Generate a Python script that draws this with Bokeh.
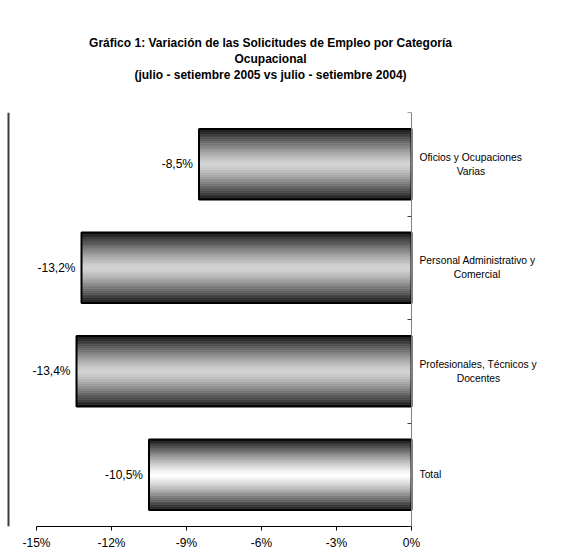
from bokeh.plotting import figure
from bokeh.models import (Range1d, LinearAxis, FixedTicker, ColumnDataSource,
                          LabelSet, Title)
from bokeh.core.properties import value
from bokeh.embed import file_html
from bokeh.resources import INLINE

# ---------------- data ----------------
categories = [
    "Oficios y Ocupaciones Varias",
    "Personal Administrativo y Comercial",
    "Profesionales, Técnicos y Docentes",
    "Total",
]
category_lines = [
    ("Oficios y Ocupaciones", "Varias"),
    ("Personal Administrativo y", "Comercial"),
    ("Profesionales, Técnicos y", "Docentes"),
    ("Total", ""),
]
values = [-8.5, -13.2, -13.4, -10.5]
x_ticks = [-15, -12, -9, -6, -3, 0]
x_tick_labels = ["-15%", "-12%", "-9%", "-6%", "-3%", "0%"]
title_lines = [
    "Gráfico 1: Variación de las Solicitudes de Empleo por Categoría",
    "Ocupacional",
    "(julio - setiembre 2005 vs julio - setiembre 2004)",
]

# ---------------- style ----------------
FONT = "Liberation Sans"
BAR_H = 0.68
N_STRIPES = 40
peak_gray = [212, 212, 212, 255]
edge_gray = 18
second_line_pad = [13, 12, 13, 0]      # centres the 2nd line under the 1st
X_PAD_LEFT, X_PAD_RIGHT = 1.4, 5.12    # extra plot room for labels / title
TITLE_GAP = 15
BORDER_COLOR = "#3c3c3c"

W, H = 574, 552
FRAME_L, FRAME_R, FRAME_T, FRAME_B = 1, 539, 112, 529
PX_PER_X = 25.0                           # pixels per 1 %
PX_PER_Y = (FRAME_B - FRAME_T) / 4.0      # pixels per category slot

n = len(categories)
ypos = [n - i - 0.5 for i in range(n)]   # first category on top

p = figure(
    width=W, height=H,
    x_range=Range1d(x_ticks[0] - X_PAD_LEFT, x_ticks[-1] + X_PAD_RIGHT),
    y_range=Range1d(0, n),
    output_backend="svg", toolbar_location=None,
    y_axis_location=None,
    min_border_left=FRAME_L, min_border_right=W - FRAME_R,
    min_border_top=FRAME_T, min_border_bottom=H - FRAME_B,
)
p.outline_line_color = None
p.background_fill_color = "white"
p.border_fill_color = "white"
p.xgrid.visible = False
p.ygrid.visible = False

# gradient stripes
ys, lefts, heights, colors = [], [], [], []
for yc, v, pk in zip(ypos, values, peak_gray):
    for i in range(N_STRIPES):
        t = -1 + (2 * i + 1) / N_STRIPES
        g = int(round(edge_gray + (pk - edge_gray) * (1 - abs(t) ** 1.3)))
        ys.append(yc + t * BAR_H / 2)
        lefts.append(v)
        heights.append(BAR_H / N_STRIPES)
        colors.append("#%02x%02x%02x" % (g, g, g))
stripes = ColumnDataSource(dict(y=ys, left=lefts, height=heights, color=colors))
p.hbar(y="y", left="left", right=0, height="height", source=stripes,
       fill_color="color", line_color="color", line_width=0.6)

bars = ColumnDataSource(dict(
    y=ypos, val=values,
    vlabel=[("%.1f" % v).replace(".", ",") + "%" for v in values],
))
p.hbar(y="y", left="val", right=0, height=BAR_H, source=bars,
       fill_color=None, line_color="black", line_width=2)

# value labels
p.add_layout(LabelSet(x="val", y="y", text="vlabel", source=bars,
                      x_offset=-6, text_align="right", text_baseline="middle",
                      text_font=value(FONT), text_font_size="12px",
                      text_color="black"))

# x axis (line only from -15% to 0%)
xa = p.xaxis[0]
xa.ticker = FixedTicker(ticks=x_ticks)
xa.bounds = (x_ticks[0], x_ticks[-1])
xa.major_label_overrides = {t: l for t, l in zip(x_ticks, x_tick_labels)}
xa.major_label_text_font = FONT
xa.major_label_text_font_size = "12px"
xa.major_label_text_color = "black"
xa.major_label_standoff = 5
xa.major_tick_in = 0
xa.major_tick_out = 4
xa.minor_tick_line_color = None
xa.axis_line_color = "black"
xa.major_tick_line_color = "black"

# category axis at 0%: labels at category centres, ticks at boundaries
labels = []
for first, second, pad in zip(*zip(*category_lines), second_line_pad):
    labels.append(first + ("\n" + "\u00a0" * pad + second if second else ""))
ya = LinearAxis(ticker=FixedTicker(ticks=ypos, minor_ticks=list(range(n + 1))),
                fixed_location=x_ticks[-1])
ya.major_label_overrides = {y: l for y, l in zip(ypos, labels)}
ya.major_label_text_font = FONT
ya.major_label_text_font_size = "10.3px"
ya.major_label_text_color = "black"
ya.major_label_text_line_height = 1.3
ya.major_label_standoff = 8
ya.major_tick_in = 0
ya.major_tick_out = 0
ya.major_tick_line_color = None
ya.minor_tick_in = 4
ya.minor_tick_out = 0
ya.minor_tick_line_color = "#404040"
ya.axis_line_color = "#808080"
p.add_layout(ya, "right")

# chart-area border (left and top edges), drawn as bare axis lines
border_x = x_ticks[0] - (36 - 8) / PX_PER_X
border_y = n + (FRAME_T - 10) / PX_PER_Y
for side, loc in (("left", border_x), ("above", border_y)):
    b = LinearAxis(ticker=FixedTicker(ticks=[]), fixed_location=loc,
                   axis_line_color=BORDER_COLOR, axis_line_width=2,
                   major_tick_line_color=None, minor_tick_line_color=None,
                   major_label_text_font_size="0px")
    p.add_layout(b, side)

# spacer between title and plot area
p.add_layout(Title(text=" ", text_font=FONT, text_font_size="12px",
                   standoff=TITLE_GAP), "above")
# title lines (nearest the plot first)
for line in reversed(title_lines):
    p.add_layout(Title(text=line, align="center", text_font=FONT,
                       text_font_size="12px", text_font_style="bold",
                       text_color="black", standoff=0), "above")

open("out.html", "w").write(file_html(p, INLINE))
